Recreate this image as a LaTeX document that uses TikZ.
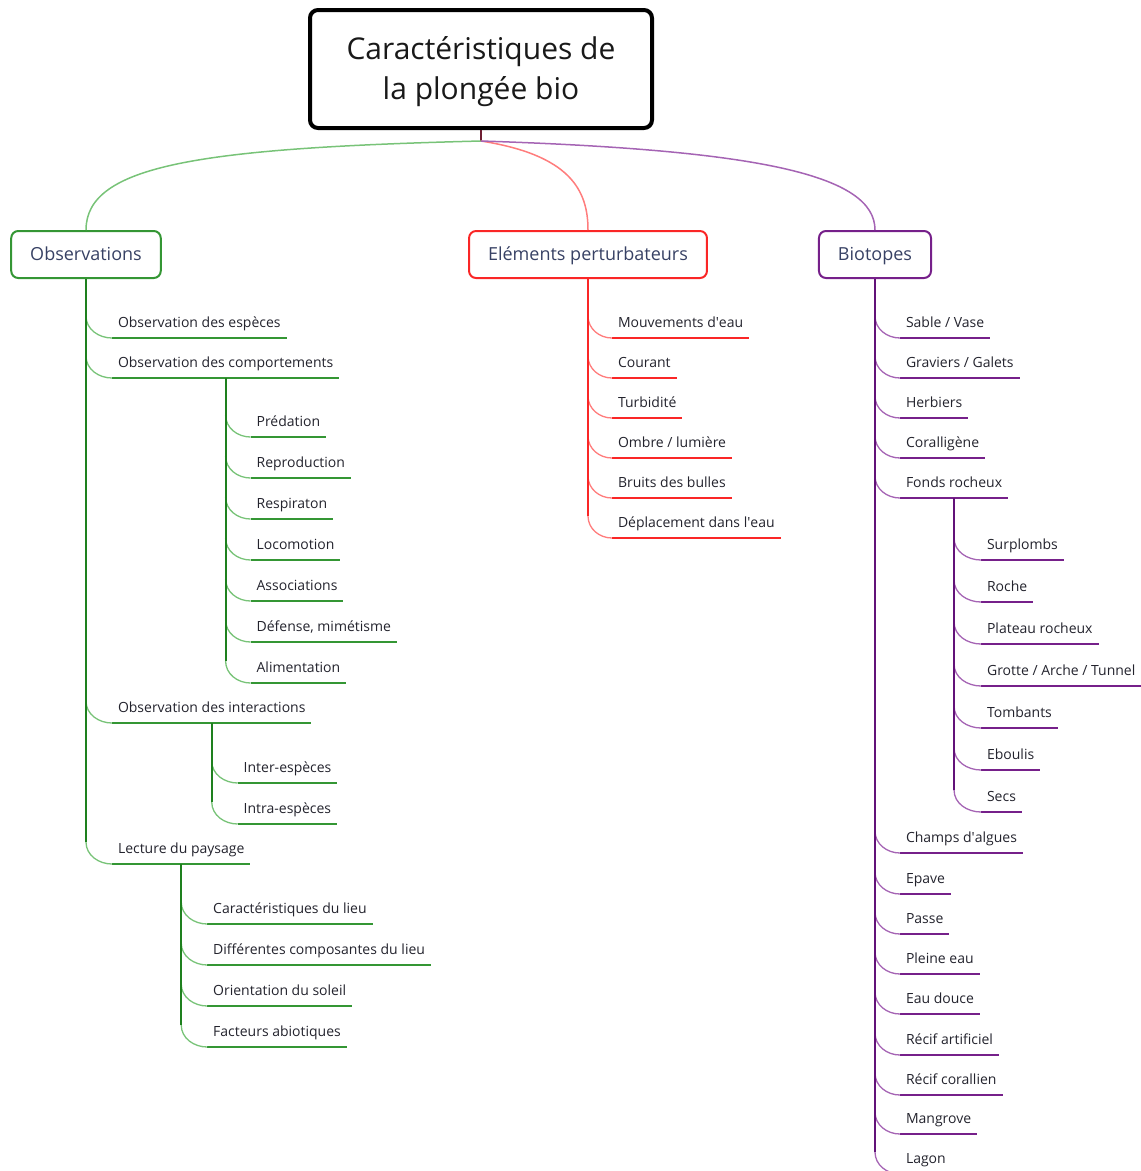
\documentclass[tikz,border=0pt]{standalone}
\usepackage{fontspec}
\setmainfont{Open Sans}
\usepackage{xcolor}

\definecolor{obsgreen}{RGB}{52,150,52}
\definecolor{obsdark}{RGB}{30,128,30}
\definecolor{obslight}{RGB}{120,195,120}
\definecolor{pertred}{RGB}{250,38,38}
\definecolor{pertlight}{RGB}{255,125,125}
\definecolor{biopurple}{RGB}{118,32,138}
\definecolor{biodark}{RGB}{98,18,120}
\definecolor{biolight}{RGB}{165,100,180}
\definecolor{stembrown}{RGB}{110,30,50}
\definecolor{leaftext}{RGB}{35,35,45}
\definecolor{topictext}{RGB}{55,65,100}

\tikzset{
  rootbox/.style={draw=black, line width=4pt, rounded corners=8pt,
    minimum width=342pt, minimum height=118pt},
  roottext/.style={align=center, text=black!90, font=\fontsize{30}{40}\selectfont},
  topic/.style={draw, line width=2pt, rounded corners=7pt, inner xsep=19pt,
    minimum height=47pt, text height=16pt, text depth=4pt, text=topictext,
    font=\fontsize{18}{21}\selectfont},
  leaf/.style={anchor=south west, inner xsep=6pt, inner ysep=11pt, outer sep=0pt,
    text depth=0pt, text=leaftext, font=\fontsize{14}{16}\selectfont},
  gline/.style={obsgreen, line width=2pt},
  gcurve/.style={obslight, line width=1.3pt},
  gtrunk/.style={obsdark, line width=2pt},
  rline/.style={pertred, line width=2pt},
  rcurve/.style={pertlight, line width=1.3pt},
  rtrunk/.style={pertred, line width=2.4pt},
  pline/.style={biopurple, line width=2pt},
  pcurve/.style={biolight, line width=1.3pt},
  ptrunk/.style={biodark, line width=2.4pt},
  parent/.style={line width=2.8pt}
}

\begin{document}
\begin{tikzpicture}[x=1pt,y=1pt]
  \useasboundingbox (0,0) rectangle (1141,-1171);
  \clip (0,0) rectangle (1141,-1171);

  % central topic and the three main branches
  \node[rootbox] (root) at (481,-69) {};
  \node[roottext] (title) at (481,-72) {Caractéristiques de\\la plongée bio};
  \node[topic, draw=obsgreen] (obs) at (86,-254.5) {Observations};
  \node[topic, draw=pertred] (elem) at (588,-254.5) {Eléments perturbateurs};
  \node[topic, draw=biopurple] (bio) at (875,-254.5) {Biotopes};

  \coordinate (hub) at (481,-141);
  \draw[stembrown, line width=2pt] (root.south) -- (hub);
  \draw[obslight, line width=1.5pt] (hub) .. controls (200,-148) and (86,-165) .. (obs.north);
  \draw[pertlight, line width=1.5pt] (hub) .. controls (570,-155) and (588,-190) .. (elem.north);
  \draw[biolight, line width=1.5pt] (hub) .. controls (760,-150) and (875,-175) .. (bio.north);

  % Observations
  \node[leaf] (espec) at (112,-338) {Observation des espèces};
  \node[leaf] (comport) at (112,-378) {Observation des comportements};
  \node[leaf] (interac) at (112,-723) {Observation des interactions};
  \node[leaf] (lecture) at (112,-864) {Lecture du paysage};
  \draw[gline] (espec.south west) -- (espec.south east);
  \draw[gline, parent] (comport.south west) -- (comport.south east);
  \draw[gline] (interac.south west) -- (interac.south east);
  \draw[gline, parent] (lecture.south west) -- (lecture.south east);
  \draw[gcurve] (espec.south west) to[out=180,in=-90] ++(-26,22);
  \draw[gcurve] (comport.south west) to[out=180,in=-90] ++(-26,22);
  \draw[gcurve] (interac.south west) to[out=180,in=-90] ++(-26,22);
  \draw[gcurve] (lecture.south west) to[out=180,in=-90] ++(-26,22) coordinate (obsend);
  \draw[gtrunk] (obs.south) -- (obsend);

  \node[leaf, xshift=25pt, yshift=-59pt] (preda) at (comport.south) {Prédation};
  \node[leaf, yshift=-41pt] (repro) at (preda.south west) {Reproduction};
  \node[leaf, yshift=-41pt] (respi) at (repro.south west) {Respiraton};
  \node[leaf, yshift=-41pt] (locom) at (respi.south west) {Locomotion};
  \node[leaf, yshift=-41pt] (assoc) at (locom.south west) {Associations};
  \node[leaf, yshift=-41pt] (defen) at (assoc.south west) {Défense, mimétisme};
  \node[leaf, yshift=-41pt] (alim) at (defen.south west) {Alimentation};
  \draw[gline, line width=1.5pt] (preda.south west) -- (preda.south east);
  \draw[gline, line width=1.5pt] (repro.south west) -- (repro.south east);
  \draw[gline, line width=1.5pt] (respi.south west) -- (respi.south east);
  \draw[gline, line width=1.5pt] (locom.south west) -- (locom.south east);
  \draw[gline, line width=1.5pt] (assoc.south west) -- (assoc.south east);
  \draw[gline, line width=1.5pt] (defen.south west) -- (defen.south east);
  \draw[gline, line width=1.5pt] (alim.south west) -- (alim.south east);
  \draw[gcurve] (preda.south west) to[out=180,in=-90] ++(-25,22);
  \draw[gcurve] (repro.south west) to[out=180,in=-90] ++(-25,22);
  \draw[gcurve] (respi.south west) to[out=180,in=-90] ++(-25,22);
  \draw[gcurve] (locom.south west) to[out=180,in=-90] ++(-25,22);
  \draw[gcurve] (assoc.south west) to[out=180,in=-90] ++(-25,22);
  \draw[gcurve] (defen.south west) to[out=180,in=-90] ++(-25,22);
  \draw[gcurve] (alim.south west) to[out=180,in=-90] ++(-25,22) coordinate (alimend);
  \draw[gtrunk] (comport.south) -- (alimend);

  \node[leaf, xshift=26pt, yshift=-60pt] (inter) at (interac.south) {Inter-espèces};
  \node[leaf, yshift=-41pt] (intra) at (inter.south west) {Intra-espèces};
  \draw[gline, line width=1.5pt] (inter.south west) -- (inter.south east);
  \draw[gline, line width=1.5pt] (intra.south west) -- (intra.south east);
  \draw[gcurve] (inter.south west) to[out=180,in=-90] ++(-26,22);
  \draw[gcurve] (intra.south west) to[out=180,in=-90] ++(-26,22) coordinate (intraend);
  \draw[gtrunk] (interac.south) -- (intraend);

  \node[leaf, xshift=26pt, yshift=-60pt] (caract) at (lecture.south) {Caractéristiques du lieu};
  \node[leaf, yshift=-41pt] (compos) at (caract.south west) {Différentes composantes du lieu};
  \node[leaf, yshift=-41pt] (orient) at (compos.south west) {Orientation du soleil};
  \node[leaf, yshift=-41pt] (factab) at (orient.south west) {Facteurs abiotiques};
  \draw[gline, line width=1.5pt] (caract.south west) -- (caract.south east);
  \draw[gline, line width=1.5pt] (compos.south west) -- (compos.south east);
  \draw[gline, line width=1.5pt] (orient.south west) -- (orient.south east);
  \draw[gline, line width=1.5pt] (factab.south west) -- (factab.south east);
  \draw[gcurve] (caract.south west) to[out=180,in=-90] ++(-26,22);
  \draw[gcurve] (compos.south west) to[out=180,in=-90] ++(-26,22);
  \draw[gcurve] (orient.south west) to[out=180,in=-90] ++(-26,22);
  \draw[gcurve] (factab.south west) to[out=180,in=-90] ++(-26,22) coordinate (factend);
  \draw[gtrunk] (lecture.south) -- (factend);

  % Eléments perturbateurs
  \node[leaf] (mouv) at (612,-338) {Mouvements d\textquotesingle eau};
  \node[leaf] (cour) at (612,-378) {Courant};
  \node[leaf] (turb) at (612,-418) {Turbidité};
  \node[leaf] (ombre) at (612,-458) {Ombre / lumière};
  \node[leaf] (bruit) at (612,-498) {Bruits des bulles};
  \node[leaf] (depl) at (612,-538) {Déplacement dans l\textquotesingle eau};
  \draw[rline] (mouv.south west) -- (mouv.south east);
  \draw[rline] (cour.south west) -- (cour.south east);
  \draw[rline] (turb.south west) -- (turb.south east);
  \draw[rline] (ombre.south west) -- (ombre.south east);
  \draw[rline] (bruit.south west) -- (bruit.south east);
  \draw[rline] (depl.south west) -- (depl.south east);
  \draw[rcurve] (mouv.south west) to[out=180,in=-90] ++(-24,22);
  \draw[rcurve] (cour.south west) to[out=180,in=-90] ++(-24,22);
  \draw[rcurve] (turb.south west) to[out=180,in=-90] ++(-24,22);
  \draw[rcurve] (ombre.south west) to[out=180,in=-90] ++(-24,22);
  \draw[rcurve] (bruit.south west) to[out=180,in=-90] ++(-24,22);
  \draw[rcurve] (depl.south west) to[out=180,in=-90] ++(-24,22) coordinate (deplend);
  \draw[rtrunk] (elem.south) -- (deplend);

  % Biotopes
  \node[leaf] (sable) at (900,-338) {Sable / Vase};
  \node[leaf] (grav) at (900,-378) {Graviers / Galets};
  \node[leaf] (herb) at (900,-418) {Herbiers};
  \node[leaf] (coral) at (900,-458) {Coralligène};
  \node[leaf] (fonds) at (900,-498) {Fonds rocheux};
  \node[leaf] (champ) at (900,-853) {Champs d\textquotesingle algues};
  \node[leaf] (epave) at (900,-894) {Epave};
  \node[leaf] (passe) at (900,-934) {Passe};
  \node[leaf] (plein) at (900,-974) {Pleine eau};
  \node[leaf] (douce) at (900,-1014) {Eau douce};
  \node[leaf] (recifa) at (900,-1055) {Récif artificiel};
  \node[leaf] (recifc) at (900,-1095) {Récif corallien};
  \node[leaf] (mangr) at (900,-1134) {Mangrove};
  \node[leaf] (lagon) at (900,-1174) {Lagon};
  \draw[pline] (sable.south west) -- (sable.south east);
  \draw[pline] (grav.south west) -- (grav.south east);
  \draw[pline] (herb.south west) -- (herb.south east);
  \draw[pline] (coral.south west) -- (coral.south east);
  \draw[pline, parent] (fonds.south west) -- (fonds.south east);
  \draw[pline] (champ.south west) -- (champ.south east);
  \draw[pline] (epave.south west) -- (epave.south east);
  \draw[pline] (passe.south west) -- (passe.south east);
  \draw[pline] (plein.south west) -- (plein.south east);
  \draw[pline] (douce.south west) -- (douce.south east);
  \draw[pline] (recifa.south west) -- (recifa.south east);
  \draw[pline] (recifc.south west) -- (recifc.south east);
  \draw[pline] (mangr.south west) -- (mangr.south east);
  \draw[pline] (lagon.south west) -- (lagon.south east);
  \draw[pcurve] (sable.south west) to[out=180,in=-90] ++(-25,22);
  \draw[pcurve] (grav.south west) to[out=180,in=-90] ++(-25,22);
  \draw[pcurve] (herb.south west) to[out=180,in=-90] ++(-25,22);
  \draw[pcurve] (coral.south west) to[out=180,in=-90] ++(-25,22);
  \draw[pcurve] (fonds.south west) to[out=180,in=-90] ++(-25,22);
  \draw[pcurve] (champ.south west) to[out=180,in=-90] ++(-25,22);
  \draw[pcurve] (epave.south west) to[out=180,in=-90] ++(-25,22);
  \draw[pcurve] (passe.south west) to[out=180,in=-90] ++(-25,22);
  \draw[pcurve] (plein.south west) to[out=180,in=-90] ++(-25,22);
  \draw[pcurve] (douce.south west) to[out=180,in=-90] ++(-25,22);
  \draw[pcurve] (recifa.south west) to[out=180,in=-90] ++(-25,22);
  \draw[pcurve] (recifc.south west) to[out=180,in=-90] ++(-25,22);
  \draw[pcurve] (mangr.south west) to[out=180,in=-90] ++(-25,22);
  \draw[pcurve] (lagon.south west) to[out=180,in=-90] ++(-25,22) coordinate (lagonend);
  \draw[ptrunk] (bio.south) -- (lagonend);

  \node[leaf, xshift=27pt, yshift=-62pt] (surpl) at (fonds.south) {Surplombs};
  \node[leaf, yshift=-42pt] (roche) at (surpl.south west) {Roche};
  \node[leaf, yshift=-42pt] (plat) at (roche.south west) {Plateau rocheux};
  \node[leaf, yshift=-42pt] (grotte) at (plat.south west) {Grotte / Arche / Tunnel};
  \node[leaf, yshift=-42pt] (tomb) at (grotte.south west) {Tombants};
  \node[leaf, yshift=-42pt] (ebou) at (tomb.south west) {Eboulis};
  \node[leaf, yshift=-42pt] (secs) at (ebou.south west) {Secs};
  \draw[pline] (surpl.south west) -- (surpl.south east);
  \draw[pline] (roche.south west) -- (roche.south east);
  \draw[pline] (plat.south west) -- (plat.south east);
  \draw[pline] (grotte.south west) -- (grotte.south east);
  \draw[pline] (tomb.south west) -- (tomb.south east);
  \draw[pline] (ebou.south west) -- (ebou.south east);
  \draw[pline] (secs.south west) -- (secs.south east);
  \draw[pcurve] (surpl.south west) to[out=180,in=-90] ++(-27,22);
  \draw[pcurve] (roche.south west) to[out=180,in=-90] ++(-27,22);
  \draw[pcurve] (plat.south west) to[out=180,in=-90] ++(-27,22);
  \draw[pcurve] (grotte.south west) to[out=180,in=-90] ++(-27,22);
  \draw[pcurve] (tomb.south west) to[out=180,in=-90] ++(-27,22);
  \draw[pcurve] (ebou.south west) to[out=180,in=-90] ++(-27,22);
  \draw[pcurve] (secs.south west) to[out=180,in=-90] ++(-27,22) coordinate (secsend);
  \draw[ptrunk] (fonds.south) -- (secsend);
\end{tikzpicture}
\end{document}
